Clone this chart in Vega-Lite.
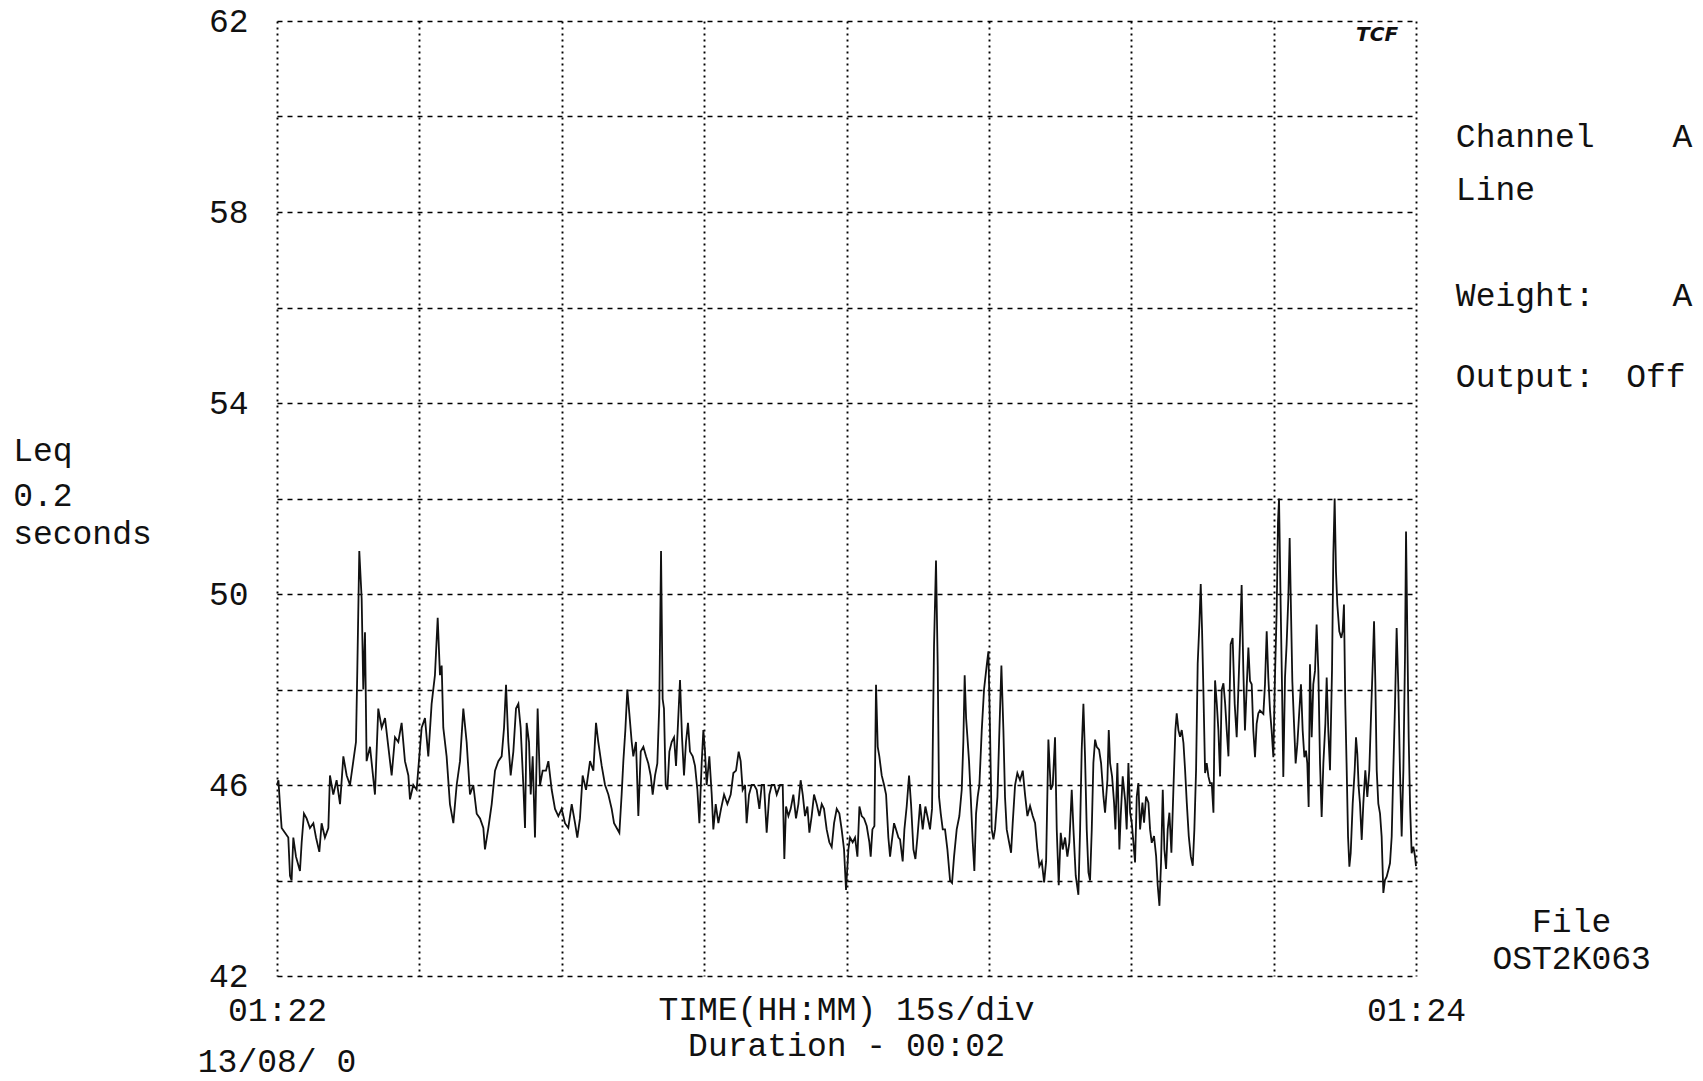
{
  "$schema": "https://vega.github.io/schema/vega-lite/v6.json",
  "width": 1139,
  "height": 955,
  "autosize": {"type": "none"},
  "padding": {"left": 277, "top": 21, "right": 287, "bottom": 105},
  "background": "white",
  "config": {
    "view": {"stroke": null},
    "font": "Liberation Mono"
  },
  "encoding": {
    "x": {"type": "quantitative", "scale": {"domain": [0, 120], "nice": false, "zero": false},
      "axis": {
        "values": [0, 15, 30, 45, 60, 75, 90, 105, 120],
        "grid": true, "gridColor": "#000", "gridDash": [2, 4], "gridWidth": 1.9, "gridOpacity": 1,
        "domain": false, "ticks": false, "tickSize": 0,
        "labelExpr": "datum.value == 0 ? '01:22' : (datum.value == 120 ? '01:24' : '')",
        "labelFont": "Liberation Mono", "labelFontSize": 33, "labelColor": "#111",
        "labelPadding": 34, "labelBaseline": "middle", "labelFlush": false, "labelOverlap": false, "labelBound": false,
        "title": null
      }},
    "y": {"type": "quantitative", "scale": {"domain": [42, 62], "nice": false, "zero": false},
      "axis": {
        "values": [42, 44, 46, 48, 50, 52, 54, 56, 58, 60, 62],
        "grid": true, "gridColor": "#000", "gridDash": [5, 5], "gridWidth": 1.7, "gridOpacity": 1,
        "domain": false, "ticks": false, "tickSize": 0,
        "labelExpr": "datum.value % 4 == 2 ? datum.label : ''",
        "labelFont": "Liberation Mono", "labelFontSize": 33, "labelColor": "#111",
        "labelPadding": 29, "labelAlign": "right", "labelBaseline": "middle", "labelOverlap": false, "labelBound": false,
        "title": null
      }}
  },
  "layer": [
    {
      "data": {"values": [
        {"t":0.0,"db":46.0},{"t":0.15,"db":46.1},{"t":0.31,"db":45.6},{"t":0.49,"db":45.1},{"t":0.84,"db":45.0},{"t":1.19,"db":44.9},{"t":1.37,"db":44.1},{"t":1.54,"db":44.0},{"t":1.72,"db":44.9},{"t":2.0,"db":44.5},{"t":2.42,"db":44.2},{"t":2.6,"db":44.8},{"t":2.84,"db":45.4},{"t":3.12,"db":45.3},{"t":3.47,"db":45.1},{"t":3.83,"db":45.2},{"t":4.11,"db":44.9},{"t":4.46,"db":44.6},{"t":4.7,"db":45.2},{"t":5.05,"db":44.9},{"t":5.41,"db":45.1},{"t":5.58,"db":46.2},{"t":5.93,"db":45.8},{"t":6.28,"db":46.1},{"t":6.64,"db":45.6},{"t":6.99,"db":46.6},{"t":7.34,"db":46.2},{"t":7.69,"db":46.0},{"t":8.04,"db":46.5},{"t":8.32,"db":46.9},{"t":8.46,"db":48.4},{"t":8.67,"db":50.9},{"t":8.92,"db":49.9},{"t":9.09,"db":48.0},{"t":9.27,"db":49.2},{"t":9.44,"db":46.5},{"t":9.8,"db":46.8},{"t":10.32,"db":45.8},{"t":10.67,"db":47.6},{"t":11.03,"db":47.2},{"t":11.38,"db":47.4},{"t":11.73,"db":46.8},{"t":12.08,"db":46.2},{"t":12.43,"db":47.0},{"t":12.78,"db":46.9},{"t":13.13,"db":47.3},{"t":13.48,"db":46.5},{"t":13.84,"db":46.2},{"t":14.01,"db":45.7},{"t":14.36,"db":46.0},{"t":14.71,"db":45.9},{"t":15.24,"db":47.2},{"t":15.59,"db":47.4},{"t":15.94,"db":46.6},{"t":16.29,"db":47.7},{"t":16.64,"db":48.3},{"t":16.93,"db":49.5},{"t":17.17,"db":48.3},{"t":17.35,"db":48.5},{"t":17.52,"db":47.2},{"t":17.87,"db":46.6},{"t":18.22,"db":45.6},{"t":18.58,"db":45.2},{"t":18.93,"db":46.0},{"t":19.28,"db":46.5},{"t":19.63,"db":47.6},{"t":19.98,"db":46.9},
        {"t":20.33,"db":45.8},{"t":20.68,"db":46.0},{"t":21.04,"db":45.4},{"t":21.39,"db":45.3},{"t":21.74,"db":45.1},{"t":21.91,"db":44.65},{"t":22.27,"db":45.1},{"t":22.62,"db":45.6},{"t":22.97,"db":46.3},{"t":23.32,"db":46.5},{"t":23.67,"db":46.6},{"t":23.92,"db":47.2},{"t":24.13,"db":48.1},{"t":24.37,"db":46.9},{"t":24.62,"db":46.2},{"t":24.9,"db":46.7},{"t":25.18,"db":47.6},{"t":25.43,"db":47.7},{"t":25.67,"db":47.2},{"t":25.95,"db":46.0},{"t":26.13,"db":45.1},{"t":26.3,"db":47.3},{"t":26.55,"db":46.9},{"t":26.73,"db":45.8},{"t":26.94,"db":46.6},{"t":27.18,"db":44.9},{"t":27.46,"db":47.6},{"t":27.71,"db":46.0},{"t":27.99,"db":46.3},{"t":28.34,"db":46.3},{"t":28.59,"db":46.5},{"t":28.94,"db":45.9},{"t":29.29,"db":45.5},{"t":29.64,"db":45.35},{"t":29.99,"db":45.5},{"t":30.34,"db":45.2},{"t":30.69,"db":45.1},{"t":31.05,"db":45.6},{"t":31.4,"db":45.2},{"t":31.64,"db":44.9},{"t":31.92,"db":45.3},{"t":32.2,"db":46.2},{"t":32.56,"db":45.9},{"t":32.98,"db":46.5},{"t":33.33,"db":46.3},{"t":33.61,"db":47.3},{"t":33.85,"db":46.9},{"t":34.21,"db":46.4},{"t":34.56,"db":46.0},{"t":34.91,"db":45.8},{"t":35.26,"db":45.5},{"t":35.51,"db":45.2},{"t":35.79,"db":45.1},{"t":36.07,"db":45.0},{"t":36.31,"db":45.8},{"t":36.49,"db":46.5},{"t":36.7,"db":47.15},{"t":36.91,"db":48.0},{"t":37.12,"db":47.5},{"t":37.37,"db":46.9},{"t":37.54,"db":46.6},{"t":37.82,"db":46.9},{"t":38.07,"db":45.35},{"t":38.32,"db":46.7},{"t":38.6,"db":46.8},{"t":38.88,"db":46.6},{"t":39.12,"db":46.45},{"t":39.37,"db":46.2},{"t":39.58,"db":45.8},{"t":39.83,"db":46.2},
        {"t":40.07,"db":46.45},{"t":40.28,"db":47.7},{"t":40.46,"db":50.9},{"t":40.63,"db":47.8},{"t":40.77,"db":47.6},{"t":40.95,"db":46.0},{"t":41.13,"db":45.9},{"t":41.34,"db":46.7},{"t":41.58,"db":46.9},{"t":41.83,"db":47.0},{"t":42.04,"db":46.4},{"t":42.25,"db":47.3},{"t":42.46,"db":48.2},{"t":42.67,"db":47.0},{"t":42.88,"db":46.2},{"t":43.09,"db":46.9},{"t":43.3,"db":47.3},{"t":43.51,"db":46.7},{"t":43.8,"db":46.6},{"t":44.04,"db":46.4},{"t":44.29,"db":45.9},{"t":44.5,"db":45.2},{"t":44.74,"db":46.45},{"t":44.92,"db":47.15},{"t":45.09,"db":46.7},{"t":45.27,"db":46.0},{"t":45.55,"db":46.6},{"t":45.8,"db":45.8},{"t":45.97,"db":45.07},{"t":46.22,"db":45.6},{"t":46.5,"db":45.2},{"t":46.78,"db":45.5},{"t":47.1,"db":45.8},{"t":47.45,"db":45.6},{"t":47.8,"db":45.8},{"t":48.08,"db":46.25},{"t":48.36,"db":46.3},{"t":48.64,"db":46.7},{"t":48.85,"db":46.5},{"t":49.06,"db":45.9},{"t":49.31,"db":46.0},{"t":49.48,"db":45.2},{"t":49.73,"db":45.8},{"t":50.01,"db":46.0},{"t":50.26,"db":46.0},{"t":50.54,"db":45.9},{"t":50.82,"db":45.5},{"t":51.07,"db":46.0},{"t":51.31,"db":46.0},{"t":51.59,"db":45.0},{"t":51.87,"db":45.8},{"t":52.12,"db":46.0},{"t":52.4,"db":46.0},{"t":52.65,"db":45.8},{"t":53.0,"db":46.0},{"t":53.28,"db":46.0},{"t":53.45,"db":44.45},{"t":53.63,"db":45.55},{"t":53.88,"db":45.35},{"t":54.12,"db":45.5},{"t":54.4,"db":45.8},{"t":54.68,"db":45.3},{"t":54.93,"db":45.6},{"t":55.17,"db":46.1},{"t":55.39,"db":45.8},{"t":55.63,"db":45.35},{"t":55.88,"db":45.55},{"t":56.09,"db":45.0},{"t":56.33,"db":45.35},{"t":56.58,"db":45.8},{"t":56.86,"db":45.6},{"t":57.14,"db":45.35},{"t":57.39,"db":45.6},{"t":57.63,"db":45.5},{"t":57.91,"db":45.07},{"t":58.19,"db":44.8},{"t":58.44,"db":44.7},{"t":58.69,"db":45.2},{"t":58.97,"db":45.5},{"t":59.25,"db":45.4},{"t":59.49,"db":45.07},{"t":59.74,"db":44.65},{"t":59.95,"db":43.8},
        {"t":60.2,"db":44.65},{"t":60.37,"db":44.9},{"t":60.65,"db":44.8},{"t":60.9,"db":44.9},{"t":61.15,"db":44.5},{"t":61.36,"db":45.55},{"t":61.6,"db":45.35},{"t":61.85,"db":45.3},{"t":62.13,"db":45.14},{"t":62.41,"db":44.8},{"t":62.55,"db":44.5},{"t":62.73,"db":45.07},{"t":62.94,"db":45.14},{"t":63.11,"db":48.1},{"t":63.29,"db":46.8},{"t":63.46,"db":46.6},{"t":63.71,"db":46.2},{"t":63.96,"db":46.0},{"t":64.17,"db":45.8},{"t":64.41,"db":44.9},{"t":64.59,"db":44.5},{"t":64.76,"db":44.8},{"t":65.01,"db":45.2},{"t":65.22,"db":45.07},{"t":65.47,"db":44.9},{"t":65.64,"db":44.86},{"t":65.92,"db":44.4},{"t":66.1,"db":45.07},{"t":66.34,"db":45.55},{"t":66.59,"db":46.2},{"t":66.8,"db":45.6},{"t":67.05,"db":44.65},{"t":67.26,"db":44.45},{"t":67.47,"db":44.9},{"t":67.75,"db":45.6},{"t":68.03,"db":45.07},{"t":68.31,"db":45.55},{"t":68.52,"db":45.35},{"t":68.8,"db":45.07},{"t":69.01,"db":45.5},{"t":69.22,"db":48.9},{"t":69.43,"db":50.7},{"t":69.61,"db":48.5},{"t":69.75,"db":45.75},{"t":69.93,"db":45.4},{"t":70.14,"db":45.07},{"t":70.38,"db":45.07},{"t":70.63,"db":44.65},{"t":70.91,"db":44.0},{"t":71.12,"db":43.95},{"t":71.33,"db":44.5},{"t":71.61,"db":45.07},{"t":71.89,"db":45.35},{"t":72.14,"db":45.9},{"t":72.31,"db":46.9},{"t":72.45,"db":48.3},{"t":72.6,"db":47.4},{"t":72.74,"db":47.0},{"t":72.91,"db":46.5},{"t":73.09,"db":45.75},{"t":73.3,"db":44.8},{"t":73.47,"db":44.2},{"t":73.65,"db":45.4},{"t":73.82,"db":45.75},{"t":74.0,"db":46.0},{"t":74.25,"db":47.15},{"t":74.49,"db":48.0},{"t":74.77,"db":48.5},{"t":74.95,"db":48.8},{"t":75.12,"db":47.15},{"t":75.3,"db":45.07},{"t":75.48,"db":44.86},{"t":75.65,"db":45.07},{"t":75.9,"db":45.75},{"t":76.11,"db":47.15},{"t":76.32,"db":48.5},{"t":76.53,"db":47.15},{"t":76.7,"db":45.75},{"t":76.88,"db":45.07},{"t":77.13,"db":44.8},{"t":77.34,"db":44.58},{"t":77.51,"db":45.2},{"t":77.76,"db":46.0},{"t":78.0,"db":46.25},{"t":78.28,"db":46.1},{"t":78.57,"db":46.3},{"t":78.81,"db":45.8},{"t":79.06,"db":45.35},{"t":79.34,"db":45.56},{"t":79.62,"db":45.35},{"t":79.87,"db":45.2},
        {"t":80.11,"db":44.65},{"t":80.32,"db":44.3},{"t":80.57,"db":44.4},{"t":80.82,"db":43.96},{"t":81.03,"db":44.4},{"t":81.27,"db":46.95},{"t":81.52,"db":45.9},{"t":81.73,"db":46.0},{"t":81.97,"db":47.0},{"t":82.15,"db":45.07},{"t":82.36,"db":43.9},{"t":82.57,"db":45.0},{"t":82.78,"db":44.65},{"t":83.03,"db":44.9},{"t":83.27,"db":44.5},{"t":83.48,"db":44.8},{"t":83.73,"db":45.9},{"t":83.91,"db":45.07},{"t":84.15,"db":44.1},{"t":84.43,"db":43.7},{"t":84.61,"db":45.07},{"t":84.78,"db":46.74},{"t":84.96,"db":47.7},{"t":85.13,"db":46.6},{"t":85.31,"db":45.07},{"t":85.49,"db":44.17},{"t":85.66,"db":44.0},{"t":85.84,"db":45.07},{"t":86.01,"db":46.46},{"t":86.19,"db":46.95},{"t":86.36,"db":46.8},{"t":86.61,"db":46.74},{"t":86.82,"db":46.46},{"t":87.07,"db":45.76},{"t":87.24,"db":45.42},{"t":87.49,"db":46.11},{"t":87.63,"db":47.15},{"t":87.77,"db":46.46},{"t":87.98,"db":46.18},{"t":88.19,"db":45.63},{"t":88.33,"db":45.07},{"t":88.54,"db":46.46},{"t":88.75,"db":44.65},{"t":88.89,"db":45.35},{"t":89.1,"db":46.18},{"t":89.35,"db":45.69},{"t":89.52,"db":45.07},{"t":89.7,"db":46.46},{"t":89.88,"db":45.42},{"t":90.05,"db":45.21},{"t":90.23,"db":44.79},{"t":90.4,"db":44.38},{"t":90.58,"db":45.76},{"t":90.75,"db":46.04},{"t":90.93,"db":45.07},{"t":91.18,"db":45.63},{"t":91.35,"db":45.21},{"t":91.56,"db":45.76},{"t":91.81,"db":45.63},{"t":91.98,"db":45.07},{"t":92.16,"db":44.79},{"t":92.4,"db":44.93},{"t":92.62,"db":44.51},{"t":92.79,"db":43.89},{"t":92.97,"db":43.47},{"t":93.14,"db":44.38},{"t":93.32,"db":45.9},{"t":93.49,"db":44.65},{"t":93.67,"db":44.24},{"t":93.84,"db":45.07},{"t":94.02,"db":45.42},{"t":94.23,"db":44.58},{"t":94.44,"db":45.9},{"t":94.65,"db":47.15},{"t":94.79,"db":47.5},{"t":94.97,"db":47.15},{"t":95.14,"db":47.01},{"t":95.32,"db":47.15},{"t":95.5,"db":46.88},{"t":95.67,"db":46.32},{"t":95.85,"db":45.63},{"t":96.06,"db":44.93},{"t":96.27,"db":44.51},{"t":96.48,"db":44.31},{"t":96.65,"db":45.07},{"t":96.83,"db":46.32},{"t":97.0,"db":48.54},{"t":97.18,"db":49.38},{"t":97.32,"db":50.21},{"t":97.46,"db":49.24},{"t":97.6,"db":47.99},{"t":97.78,"db":46.25},{"t":97.95,"db":46.46},{"t":98.13,"db":46.18},{"t":98.3,"db":46.04},{"t":98.48,"db":46.04},{"t":98.66,"db":45.42},{"t":98.83,"db":48.19},{"t":99.01,"db":47.71},{"t":99.18,"db":47.15},{"t":99.36,"db":46.18},{"t":99.53,"db":47.99},{"t":99.71,"db":48.13},{"t":99.89,"db":47.71},
        {"t":100.06,"db":47.15},{"t":100.24,"db":46.6},{"t":100.47,"db":48.95},{"t":100.68,"db":49.08},{"t":100.9,"db":47.69},{"t":101.11,"db":47.0},{"t":101.28,"db":47.97},{"t":101.46,"db":49.08},{"t":101.63,"db":50.19},{"t":101.81,"db":48.39},{"t":101.98,"db":47.14},{"t":102.16,"db":48.04},{"t":102.34,"db":48.88},{"t":102.51,"db":48.18},{"t":102.69,"db":48.11},{"t":102.86,"db":47.14},{"t":103.04,"db":46.58},{"t":103.21,"db":47.28},{"t":103.39,"db":47.5},{"t":103.56,"db":47.56},{"t":103.92,"db":47.49},{"t":104.09,"db":48.11},{"t":104.27,"db":49.22},{"t":104.44,"db":48.25},{"t":104.62,"db":47.56},{"t":104.79,"db":47.14},{"t":104.97,"db":46.58},{"t":105.14,"db":48.25},{"t":105.32,"db":49.64},{"t":105.46,"db":51.51},{"t":105.57,"db":52.0},{"t":105.74,"db":49.78},{"t":105.88,"db":48.11},{"t":106.02,"db":46.17},{"t":106.2,"db":48.25},{"t":106.37,"db":48.95},{"t":106.55,"db":49.92},{"t":106.69,"db":51.17},{"t":106.83,"db":49.64},{"t":106.97,"db":48.18},{"t":107.15,"db":47.28},{"t":107.32,"db":46.45},{"t":107.5,"db":46.86},{"t":107.71,"db":47.56},{"t":107.88,"db":48.11},{"t":108.06,"db":47.14},{"t":108.24,"db":46.58},{"t":108.41,"db":46.72},{"t":108.55,"db":46.45},{"t":108.69,"db":45.54},{"t":108.83,"db":48.53},{"t":109.01,"db":47.0},{"t":109.18,"db":48.11},{"t":109.36,"db":48.39},{"t":109.53,"db":49.36},{"t":109.71,"db":48.39},{"t":109.89,"db":46.45},{"t":110.06,"db":45.33},{"t":110.24,"db":46.45},{"t":110.45,"db":47.28},{"t":110.59,"db":48.25},{"t":110.76,"db":47.14},{"t":110.94,"db":46.31},{"t":111.15,"db":48.39},{"t":111.29,"db":50.82},{"t":111.43,"db":52.0},{"t":111.57,"db":50.47},{"t":111.71,"db":49.78},{"t":111.92,"db":49.22},{"t":112.13,"db":49.08},{"t":112.27,"db":49.22},{"t":112.41,"db":49.78},{"t":112.55,"db":47.69},{"t":112.7,"db":46.31},{"t":112.84,"db":44.92},{"t":112.98,"db":44.29},{"t":113.12,"db":44.57},{"t":113.33,"db":45.61},{"t":113.54,"db":46.31},{"t":113.68,"db":47.0},{"t":113.82,"db":46.65},{"t":113.96,"db":45.96},{"t":114.1,"db":45.61},{"t":114.28,"db":44.85},{"t":114.45,"db":45.61},{"t":114.66,"db":46.31},{"t":114.87,"db":45.75},{"t":115.08,"db":46.31},{"t":115.3,"db":47.69},{"t":115.44,"db":48.53},{"t":115.58,"db":49.43},{"t":115.72,"db":48.11},{"t":115.86,"db":46.31},{"t":116.03,"db":45.61},{"t":116.21,"db":45.4},{"t":116.38,"db":44.92},{"t":116.56,"db":43.74},{"t":116.73,"db":44.01},{"t":116.91,"db":44.08},{"t":117.09,"db":44.22},{"t":117.26,"db":44.36},{"t":117.44,"db":44.92},{"t":117.61,"db":46.31},{"t":117.79,"db":47.69},{"t":117.96,"db":49.29},{"t":118.14,"db":48.04},{"t":118.31,"db":46.31},{"t":118.49,"db":44.92},{"t":118.67,"db":46.31},{"t":118.84,"db":48.67},{"t":118.95,"db":51.31},{"t":119.09,"db":49.08},{"t":119.23,"db":47.0},{"t":119.37,"db":45.61},{"t":119.54,"db":44.57},{"t":119.72,"db":44.71},{"t":119.9,"db":44.5},{"t":120.0,"db":44.3}
      ]},
      "mark": {"type": "line", "color": "#111", "strokeWidth": 1.8},
      "encoding": {
        "x": {"field": "t", "type": "quantitative"},
        "y": {"field": "db", "type": "quantitative"}
      }
    },
    {
      "data": {"values": [{}]},
      "layer": [
        {"mark": {"type": "text", "align": "left", "font": "Liberation Mono", "fontSize": 33, "fill": "#111", "baseline": "middle"}, "encoding": {"x": {"datum": 124.2}, "y": {"datum": 59.57}, "text": {"value": "Channel"}}},
        {"mark": {"type": "text", "align": "right", "font": "Liberation Mono", "fontSize": 33, "fill": "#111", "baseline": "middle"}, "encoding": {"x": {"datum": 149.1}, "y": {"datum": 59.57}, "text": {"value": "A"}}},
        {"mark": {"type": "text", "align": "left", "font": "Liberation Mono", "fontSize": 33, "fill": "#111", "baseline": "middle"}, "encoding": {"x": {"datum": 124.2}, "y": {"datum": 58.46}, "text": {"value": "Line"}}},
        {"mark": {"type": "text", "align": "left", "font": "Liberation Mono", "fontSize": 33, "fill": "#111", "baseline": "middle"}, "encoding": {"x": {"datum": 124.2}, "y": {"datum": 56.24}, "text": {"value": "Weight:"}}},
        {"mark": {"type": "text", "align": "right", "font": "Liberation Mono", "fontSize": 33, "fill": "#111", "baseline": "middle"}, "encoding": {"x": {"datum": 149.1}, "y": {"datum": 56.24}, "text": {"value": "A"}}},
        {"mark": {"type": "text", "align": "left", "font": "Liberation Mono", "fontSize": 33, "fill": "#111", "baseline": "middle"}, "encoding": {"x": {"datum": 124.2}, "y": {"datum": 54.54}, "text": {"value": "Output:"}}},
        {"mark": {"type": "text", "align": "right", "font": "Liberation Mono", "fontSize": 33, "fill": "#111", "baseline": "middle"}, "encoding": {"x": {"datum": 148.4}, "y": {"datum": 54.54}, "text": {"value": "Off"}}},
        {"mark": {"type": "text", "align": "center", "font": "Liberation Mono", "fontSize": 33, "fill": "#111", "baseline": "middle"}, "encoding": {"x": {"datum": 136.4}, "y": {"datum": 43.14}, "text": {"value": "File"}}},
        {"mark": {"type": "text", "align": "center", "font": "Liberation Mono", "fontSize": 33, "fill": "#111", "baseline": "middle"}, "encoding": {"x": {"datum": 136.4}, "y": {"datum": 42.36}, "text": {"value": "OST2K063"}}},
        {"mark": {"type": "text", "align": "left", "font": "Liberation Mono", "fontSize": 33, "fill": "#111", "baseline": "middle"}, "encoding": {"x": {"datum": -27.8}, "y": {"datum": 53.0}, "text": {"value": "Leq"}}},
        {"mark": {"type": "text", "align": "left", "font": "Liberation Mono", "fontSize": 33, "fill": "#111", "baseline": "middle"}, "encoding": {"x": {"datum": -27.8}, "y": {"datum": 52.05}, "text": {"value": "0.2"}}},
        {"mark": {"type": "text", "align": "left", "font": "Liberation Mono", "fontSize": 33, "fill": "#111", "baseline": "middle"}, "encoding": {"x": {"datum": -27.8}, "y": {"datum": 51.26}, "text": {"value": "seconds"}}},
        {"mark": {"type": "text", "align": "center", "font": "Liberation Mono", "fontSize": 33, "fill": "#111", "baseline": "middle"}, "encoding": {"x": {"datum": 60}, "y": {"datum": 41.29}, "text": {"value": "TIME(HH:MM) 15s/div"}}},
        {"mark": {"type": "text", "align": "center", "font": "Liberation Mono", "fontSize": 33, "fill": "#111", "baseline": "middle"}, "encoding": {"x": {"datum": 60}, "y": {"datum": 40.54}, "text": {"value": "Duration - 00:02"}}},
        {"mark": {"type": "text", "align": "center", "font": "Liberation Mono", "fontSize": 33, "fill": "#111", "baseline": "middle"}, "encoding": {"x": {"datum": 0}, "y": {"datum": 40.2}, "text": {"value": "13/08/ 0"}}},
        {"mark": {"type": "text", "align": "center", "fontSize": 20, "fontStyle": "italic", "fontWeight": "bold", "font": "DejaVu Sans", "fill": "#111", "baseline": "middle"}, "encoding": {"x": {"datum": 115.9}, "y": {"datum": 61.7}, "text": {"value": "TCF"}}}
      ]
    }
  ]
}
